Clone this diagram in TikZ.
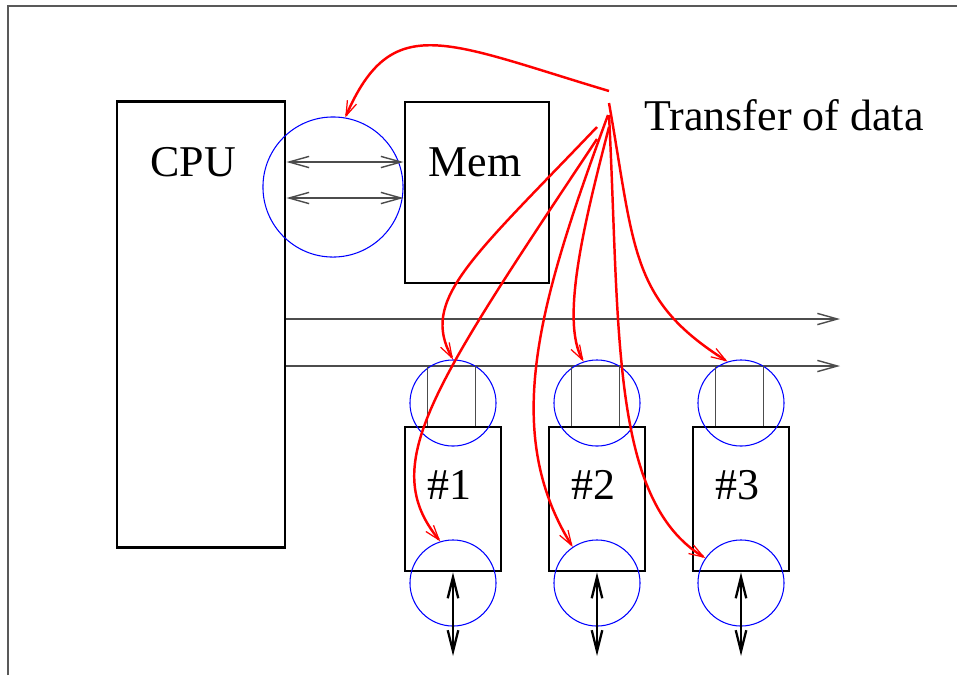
\documentclass[tikz,border=0pt]{standalone}
\usepackage{fontspec}
\setmainfont{Liberation Serif}
\usetikzlibrary{arrows.meta, positioning}

\tikzset{
  box/.style={draw, line width=0.8pt, minimum width=0.96cm, minimum height=1.44cm, inner sep=0pt},
  ring/.style={draw=blue, line width=0.3pt, circle, minimum size=0.86cm, inner sep=0pt},
  wire/.style={draw=black!70, line width=0.4pt},
  barb/.tip={Straight Barb[length=5.7pt,width=3.2pt]},
  flow/.style={red, line width=0.7pt, -{Straight Barb[length=4.2pt,width=2.8pt,line width=0.35pt]}},
  lbl/.style={font=\fontsize{12.5}{15}\selectfont, inner sep=0pt},
}

\begin{document}
\begin{tikzpicture}[x=0.01cm, y=-0.01cm]
  \useasboundingbox (0,0) rectangle (957,675);
  % rand
  \draw[black!65, line width=0.6pt] (8,675) -- (8,6) -- (957,6);
  % CPU en geheugen
  \node[box, minimum width=1.68cm, minimum height=4.45cm] (cpu) at (201,324.5) {};
  \node[lbl] (cpulbl) at (193,162) {CPU};
  \node[box, minimum width=1.44cm, minimum height=1.81cm] (mem) at (477,192.5) {};
  \node[lbl] (memlbl) at (475,162) {Mem};
  \node[ring, minimum size=1.4cm] (cmring) at (333,187) {};
  \coordinate (low) at (333,198);
  \draw[wire, barb-barb] (cpu.east |- memlbl) -- (mem.west |- memlbl);
  \draw[wire, barb-barb] (cpu.east |- low) -- (mem.west |- low);
  % bussen
  \coordinate (bus1) at (840,319);
  \coordinate (bus2) at (840,366);
  \draw[wire, -barb] (cpu.east |- bus1) -- (bus1);
  \draw[wire, -barb] (cpu.east |- bus2) -- (bus2);
  % apparaten
  \foreach \i/\x in {1/453, 2/597, 3/741} {
    \node[box] (dev\i) at (\x,499) {};
    \node[lbl] (devlbl\i) at (\x-4,485) {\#\i};
    \node[ring] (top\i) at (\x,403) {};
    \node[ring] (bot\i) at (\x,583) {};
    \draw[wire] (dev\i.north west) ++(24,0) -- ++(0,-61);
    \draw[wire] (dev\i.north west) ++(72,0) -- ++(0,-61);
    \coordinate (io\i) at (\x,656);
    \draw[line width=0.65pt, {Straight Barb[length=6pt,width=3pt]}-{Straight Barb[length=6pt,width=3pt]}] (dev\i.south) -- (io\i);
  }
  % overdracht van data
  \node[lbl] (xfer) at (784,115) {Transfer of data};
  \coordinate (s0) at (609,91);
  \coordinate (s1) at (597,127);
  \coordinate (s2) at (597,139);
  \coordinate (s3) at (609,127);
  \coordinate (s4) at (608,115);
  \coordinate (s5) at (609,115);
  \coordinate (s6) at (609,103);
  \draw[flow] (s0) .. controls (445,42) and (392,10) .. (cmring.80);
  \draw[flow] (s1) .. controls (470,260) and (420,300) .. (top1.north);
  \draw[flow] (s2) .. controls (430,390) and (378,465) .. (bot1.107);
  \draw[flow] (s3) .. controls (585,220) and (560,320) .. (top2.108);
  \draw[flow] (s4) .. controls (540,300) and (500,430) .. (bot2.124);
  \draw[flow] (s5) .. controls (620,330) and (610,500) .. (bot3.145);
  \draw[flow] (s6) .. controls (635,250) and (630,300) .. (top3.108);
\end{tikzpicture}
\end{document}
